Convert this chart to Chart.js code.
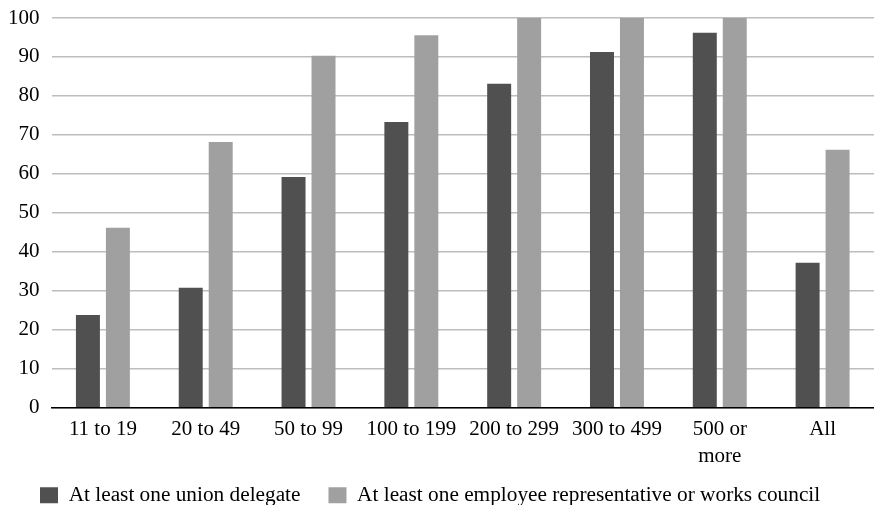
<!DOCTYPE html>
<html><head><meta charset="utf-8">
<script src="https://cdn.jsdelivr.net/npm/chart.js@4/dist/chart.umd.min.js"></script>
<style>html,body{margin:0;padding:0;background:#fff}#wrap{width:874px;height:505px}</style>
</head><body><div id="wrap"><canvas id="c" width="874" height="505"></canvas></div>
<script>
const categories = [["11 to 19"],["20 to 49"],["50 to 99"],["100 to 199"],["200 to 299"],["300 to 499"],["500 or","more"],["All"]];
const unionDelegate = [23.8, 30.8, 59.2, 73.3, 83.1, 91.3, 96.2, 37.2];
const employeeRep = [46.2, 68.2, 90.3, 95.6, 100, 100, 100, 66.2];
const yTicks = [0,10,20,30,40,50,60,70,80,90,100];
const family = "'Liberation Serif', 'Times New Roman', serif";
const font = {family: family, size: 21, lineHeight: 1.3};
const yFont = {family: family, size: 21, lineHeight: 1.0};
const legendFont = {family: family, size: 21.3, lineHeight: 1.3};
const unclip = {
  id: 'unclip',
  beforeDraw(chart) {
    chart.scales.x.bottom = chart.height;
    chart.scales.y.left = 0;
  }
};
new Chart(document.getElementById('c'), {
  type: 'bar',
  data: {
    labels: categories,
    datasets: [
      {label: 'At least one union delegate', data: unionDelegate, backgroundColor: '#505050', categoryPercentage: 0.583, barPercentage: 0.8},
      {label: 'At least one employee representative or works council', data: employeeRep, backgroundColor: '#a0a0a0', categoryPercentage: 0.583, barPercentage: 0.8}
    ]
  },
  plugins: [unclip],
  options: {
    responsive: false,
    animation: false,
    layout: {padding: {top: 18, left: 12, right: 0, bottom: -11}},
    plugins: {
      tooltip: {enabled: false},
      legend: {
        position: 'bottom',
        align: 'start',
        labels: {font: legendFont, color: '#000', boxWidth: 18, boxHeight: 16, padding: 28}
      }
    },
    scales: {
      x: {
        grid: {display: false},
        border: {color: '#000', width: 1.5},
        ticks: {font: font, color: '#000', maxRotation: 0, autoSkip: false, padding: 0},
        afterFit: (s) => { s.height = 49; }
      },
      y: {
        min: 0, max: 100,
        afterBuildTicks: (s) => { s.ticks = yTicks.map(v => ({value: v})); },
        afterFit: (s) => { s.width -= 16; s.paddingTop = 0; },
        grid: {color: '#bdbdbd', lineWidth: 1.5, drawTicks: false},
        border: {display: false},
        ticks: {font: yFont, color: '#000', padding: 12}
      }
    }
  }
});
</script></body></html>
